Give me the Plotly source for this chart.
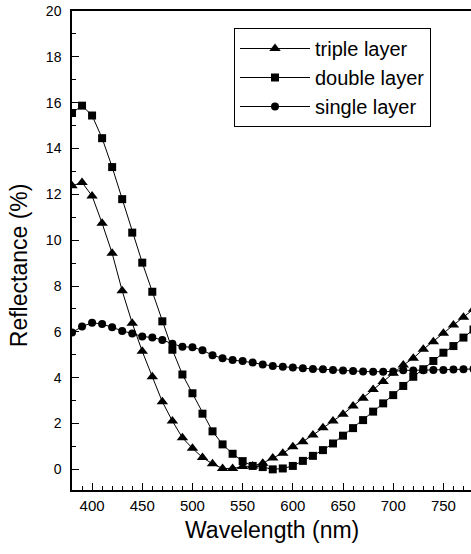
import plotly.graph_objects as go

wavelength = list(range(380, 790, 10))

triple_layer = [12.37, 12.52, 11.93, 10.74, 9.43, 7.79, 6.38, 5.15, 4.04, 2.95,
                2.11, 1.38, 0.92, 0.52, 0.24, 0.04, 0.04, 0.12, 0.15, 0.27,
                0.50, 0.70, 0.99, 1.21, 1.50, 1.82, 2.11, 2.41, 2.76, 3.10,
                3.49, 3.83, 4.19, 4.55, 4.85, 5.24, 5.57, 5.94, 6.30, 6.64, 6.99]

double_layer = [15.55, 15.87, 15.44, 14.45, 13.19, 11.79, 10.33, 9.02, 7.75, 6.46,
                5.22, 4.14, 3.32, 2.43, 1.66, 1.09, 0.68, 0.36, 0.15, 0.10,
                0.00, 0.04, 0.15, 0.37, 0.59, 0.84, 1.13, 1.47, 1.80, 2.15,
                2.52, 2.88, 3.24, 3.64, 4.04, 4.37, 4.73, 5.09, 5.38, 5.75, 6.10]

single_layer = [5.97, 6.23, 6.40, 6.34, 6.20, 6.04, 5.93, 5.80, 5.75, 5.65,
                5.48, 5.35, 5.33, 5.20, 4.98, 4.85, 4.77, 4.73, 4.66, 4.58,
                4.51, 4.48, 4.44, 4.41, 4.38, 4.37, 4.34, 4.31, 4.29, 4.27,
                4.26, 4.26, 4.27, 4.32, 4.31, 4.33, 4.34, 4.34, 4.36, 4.37, 4.38]

series = [
    ("triple layer", triple_layer, "triangle-up", 10),
    ("double layer", double_layer, "square", 8),
    ("single layer", single_layer, "circle", 8),
]

FONT = "Arial, Liberation Sans, Helvetica, sans-serif"

fig = go.Figure()
for name, vals, sym, size in series:
    fig.add_trace(go.Scatter(
        x=wavelength, y=vals, name=name, mode="lines+markers",
        line=dict(color="black", width=1),
        marker=dict(symbol=sym, size=size, color="black", line=dict(width=0)),
    ))

fig.update_layout(
    width=471, height=554,
    margin=dict(l=72, r=0, t=11, b=64, autoexpand=False),
    paper_bgcolor="white", plot_bgcolor="white",
    font=dict(family=FONT, color="black", size=14),
    showlegend=True,
    legend=dict(
        x=0.406, y=0.9645, xanchor="left", yanchor="top",
        bordercolor="black", borderwidth=1, bgcolor="white",
        font=dict(size=20, family=FONT),
        itemwidth=70, tracegroupgap=0,
        entrywidth=222, entrywidthmode="pixels",
    ),
    xaxis=dict(
        range=[380, 777.5], showgrid=False, zeroline=False, automargin=False,
        showline=True, linecolor="black", linewidth=1.5, mirror=True,
        ticks="inside", ticklen=7, tickwidth=1, tickcolor="black",
        tickmode="array", tickvals=[400, 450, 500, 550, 600, 650, 700, 750],
        ticklabelstandoff=1,
        minor=dict(ticks="inside", ticklen=4, tickwidth=1, tickcolor="black", dtick=10, tick0=380),
        tickfont=dict(size=15),
    ),
    yaxis=dict(
        range=[-0.9, 20], showgrid=False, zeroline=False, automargin=False,
        showline=True, linecolor="black", linewidth=1.5, mirror=False,
        ticks="inside", ticklen=7, tickwidth=1, tickcolor="black",
        tickmode="array", tickvals=list(range(0, 21, 2)),
        ticklabelstandoff=6,
        minor=dict(ticks="inside", ticklen=4, tickwidth=1, tickcolor="black", dtick=1, tick0=0),
        tickfont=dict(size=14),
    ),
    annotations=[
        dict(
            text="Reflectance (%)", textangle=-90, xref="paper", yref="paper",
            x=-0.132, y=0.47, xanchor="center", yanchor="middle", showarrow=False,
            font=dict(size=23, family=FONT),
        ),
        dict(
            text="Wavelength (nm)", xref="paper", yref="paper",
            x=0.5, y=-0.083, xanchor="center", yanchor="middle", showarrow=False,
            font=dict(size=23, family=FONT),
        ),
    ],
)

fig.write_html("out.html", config={"displayModeBar": False},
               post_script="document.body.style.margin='0';")
